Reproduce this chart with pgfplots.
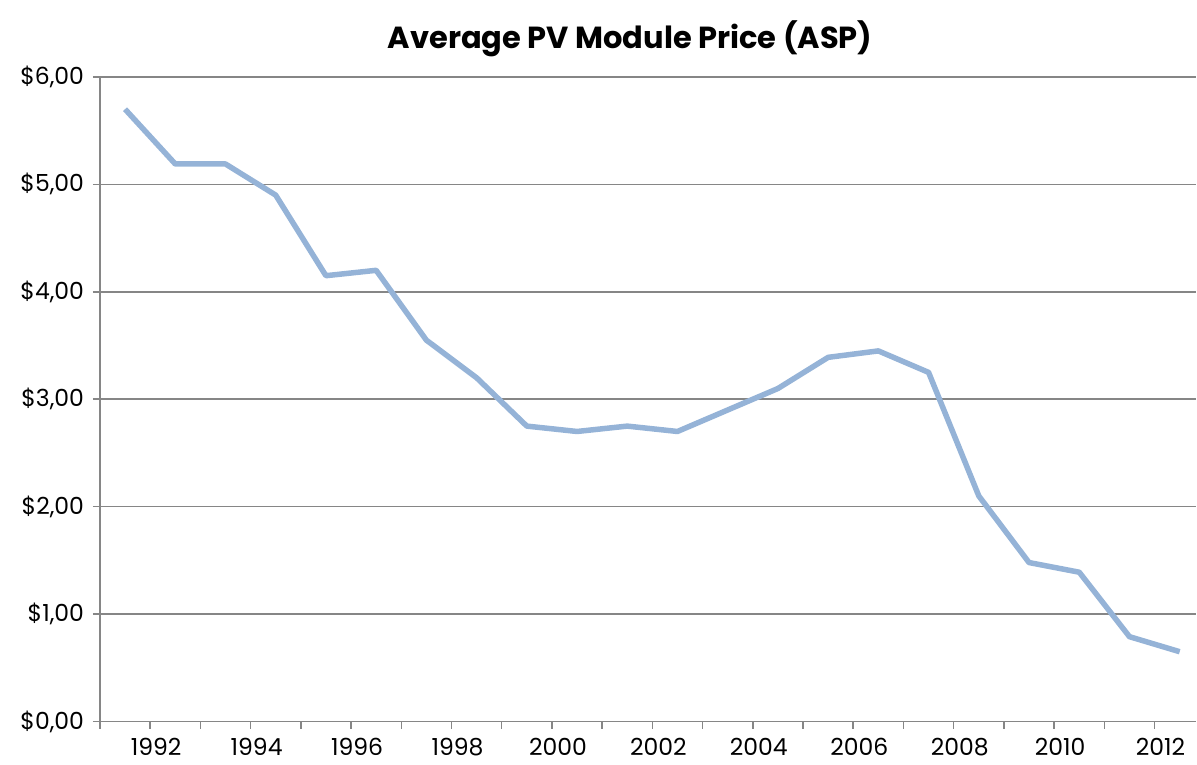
\documentclass[border=0pt]{standalone}
\usepackage{pgfplots}
\pgfplotsset{compat=1.18}
\usepackage{fontspec}
\setmainfont{Poppins}
\definecolor{linec}{RGB}{149,179,215}
\definecolor{gridc}{RGB}{134,134,134}
\begin{document}
\fontsize{23.5}{27}\selectfont
\begin{tikzpicture}
\begin{axis}[
  scale only axis,
  width=1097pt, height=645pt,
  xmin=1991, xmax=2012.83,
  ymin=0, ymax=6,
  axis x line*=bottom, axis y line*=left,
  axis line style={gridc, line width=1.5pt},
  xtick={1992,1994,...,2012},
  minor xtick={1991,1993,...,2011},
  xticklabel style={/pgf/number format/1000 sep={}, yshift=-2pt, xshift=6pt},
  ytick={0,1,...,6},
  yticklabels={\$0{,}00,\$1{,}00,\$2{,}00,\$3{,}00,\$4{,}00,\$5{,}00,\$6{,}00},
  /pgf/number format/assume math mode=true,
  tick align=outside,
  major tick length=7pt, minor tick length=7pt,
  tick style={gridc, line width=1.5pt},
  ymajorgrids,
  grid style={gridc, line width=1.5pt},
  yticklabel style={xshift=-1pt},
  title={\bfseries\fontsize{30.5}{34}\selectfont Average PV Module Price (ASP)},
  title style={yshift=6pt, xshift=-18pt},
  clip=false,
]
\addplot[linec, line width=5.5pt, line join=round] coordinates {
(1991.5,5.70) (1992.5,5.19) (1993.5,5.19) (1994.5,4.90) (1995.5,4.15)
(1996.5,4.20) (1997.5,3.55) (1998.5,3.20) (1999.5,2.75) (2000.5,2.70)
(2001.5,2.75) (2002.5,2.70) (2003.5,2.90) (2004.5,3.10) (2005.5,3.39)
(2006.5,3.45) (2007.5,3.25) (2008.5,2.10) (2009.5,1.48) (2010.5,1.39)
(2011.5,0.79) (2012.5,0.65)
};
\path (rel axis cs:0,0) ++(-100pt,-42pt) coordinate (bl);
\path (rel axis cs:1,1) ++(0pt,77pt) coordinate (tr);
\end{axis}
\useasboundingbox (bl) rectangle (tr);
\end{tikzpicture}
\end{document}
